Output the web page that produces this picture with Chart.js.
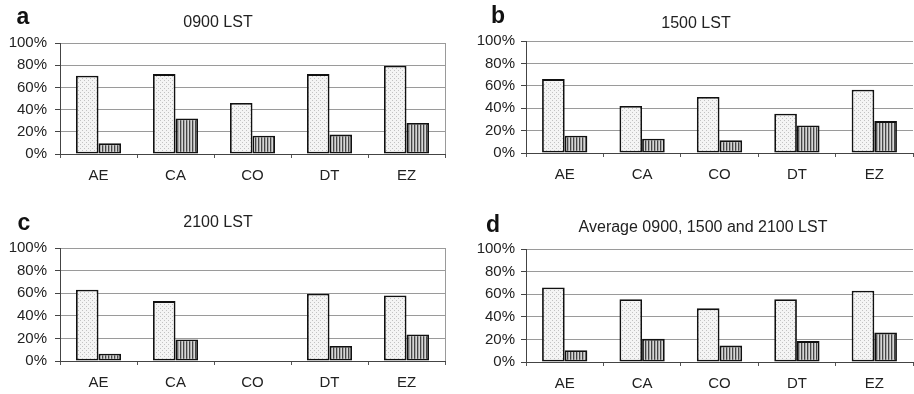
<!DOCTYPE html>
<html>
<head>
<meta charset="utf-8">
<script src="https://cdn.jsdelivr.net/npm/chart.js@4/dist/chart.umd.min.js"></script>
<style>
  html, body { margin: 0; padding: 0; background: #fff; }
  #wrap { position: relative; width: 914px; height: 394px; overflow: hidden; background: #fff; }
  canvas { position: absolute; left: 0; top: 0; }
  .t { position: absolute; font-family: "Liberation Sans", Arial, sans-serif; color: #222; white-space: nowrap; transform: translate(-50%, -50%); }
  .title { font-size: 16px; }
  .letter { font-size: 23px; font-weight: bold; color: #111; }
</style>
</head>
<body>
<div id="wrap"></div>
<script>
// ---- data ----
const categories = ['AE', 'CA', 'CO', 'DT', 'EZ'];
const yTickLabels = ['0%', '20%', '40%', '60%', '80%', '100%'];

const titles = ['0900 LST', '1500 LST', '2100 LST', 'Average 0900, 1500 and 2100 LST'];
const letters = ['a', 'b', 'c', 'd'];

const dottedA  = [70.5, 72, 46, 72, 79.5];
const stripedA = [9.6, 32, 16.5, 17.5, 28];

const dottedB  = [66, 42, 50, 35, 56.5];
const stripedB = [15.5, 12.8, 11.3, 24.5, 28.5];

const dottedC  = [63, 53, null, 59.5, 58];
const stripedC = [6.5, 19, null, 13.3, 23.5];

const dottedD  = [66, 55.5, 47.5, 55.5, 63];
const stripedD = [10.5, 20.5, 14.5, 18.5, 26];

// ---- layout (positions only) ----
const W = 914, H = 394;
const panels = [
  { dotted: dottedA, striped: stripedA, L: 60,  R: 445, T: 43,  B: 154, pad: 8, border: true,
    title: [218, 22], letter: [23, 16] },
  { dotted: dottedB, striped: stripedB, L: 526, R: 913, T: 41,  B: 153, pad: 6, border: false,
    title: [696, 23], letter: [498, 15] },
  { dotted: dottedC, striped: stripedC, L: 60,  R: 445, T: 248, B: 361, pad: 8, border: true,
    title: [218, 222], letter: [24, 222] },
  { dotted: dottedD, striped: stripedD, L: 526, R: 913, T: 249, B: 362, pad: 6, border: false,
    title: [703, 227], letter: [493, 224] },
];

function makeDots(ctx) {
  const c = document.createElement('canvas'); c.width = 4; c.height = 4;
  const g = c.getContext('2d');
  g.fillStyle = '#f4f4f4'; g.fillRect(0, 0, 4, 4);
  g.fillStyle = '#c2c2c2';
  g.fillRect(0, 0, 1, 1); g.fillRect(2, 2, 1, 1);
  return ctx.createPattern(c, 'repeat');
}
function makeStripes(ctx) {
  const c = document.createElement('canvas'); c.width = 3; c.height = 3;
  const g = c.getContext('2d');
  g.fillStyle = '#d6d6d6'; g.fillRect(0, 0, 3, 3);
  g.fillStyle = '#454545'; g.fillRect(0, 0, 1, 3);
  g.fillStyle = '#a8a8a8'; g.fillRect(1, 0, 1, 3);
  return ctx.createPattern(c, 'repeat');
}

const rightBorder = {
  id: 'rightBorder',
  afterDraw(chart, args, opts) {
    if (!opts.show) return;
    const a = chart.chartArea, ctx = chart.ctx;
    ctx.save();
    ctx.strokeStyle = '#9a9a9a'; ctx.lineWidth = 1;
    ctx.beginPath();
    ctx.moveTo(Math.round(a.right) + 0.5, a.top);
    ctx.lineTo(Math.round(a.right) + 0.5, a.bottom);
    ctx.stroke();
    ctx.restore();
  }
};

const wrap = document.getElementById('wrap');
const font = { family: '"Liberation Sans", Arial, sans-serif', size: 15 };
const YW = 60, XH = 40;

panels.forEach((p, i) => {
  const cv = document.createElement('canvas');
  cv.width = W; cv.height = H;
  cv.style.width = W + 'px'; cv.style.height = H + 'px';
  wrap.appendChild(cv);
  const ctx = cv.getContext('2d');

  new Chart(ctx, {
    type: 'bar',
    data: {
      labels: categories,
      datasets: [
        { data: p.dotted, backgroundColor: makeDots(ctx), borderColor: '#111', borderWidth: 1.8, borderSkipped: false },
        { data: p.striped, backgroundColor: makeStripes(ctx), borderColor: '#111', borderWidth: 1.8, borderSkipped: false },
      ]
    },
    options: {
      responsive: false,
      animation: false,
      events: [],
      layout: { padding: { left: p.L - YW, right: W - p.R, top: p.T, bottom: H - p.B - XH } },
      plugins: { legend: { display: false }, tooltip: { enabled: false }, title: { display: false },
                 rightBorder: { show: p.border } },
      datasets: { bar: { categoryPercentage: 0.585, barPercentage: 1 } },
      scales: {
        x: {
          afterFit(s) { s.height = XH; },
          grid: { drawOnChartArea: false, drawTicks: true, tickLength: 4, tickColor: '#555', offset: true },
          border: { color: '#444', width: 1 },
          ticks: { font, color: '#222', padding: 9, maxRotation: 0, autoSkip: false }
        },
        y: {
          min: 0, max: 100,
          afterFit(s) { s.width = YW; },
          grid: { color: '#9a9a9a', lineWidth: 1, tickLength: 5, tickColor: '#444' },
          border: { color: '#444', width: 1 },
          ticks: { stepSize: 20, font, color: '#222', padding: p.pad,
                   callback: (v) => yTickLabels[Math.round(v / 20)] }
        }
      }
    },
    plugins: [rightBorder]
  });

  const t = document.createElement('div');
  t.className = 't title'; t.textContent = titles[i];
  t.style.left = p.title[0] + 'px'; t.style.top = p.title[1] + 'px';
  wrap.appendChild(t);
  const l = document.createElement('div');
  l.className = 't letter'; l.textContent = letters[i];
  l.style.left = p.letter[0] + 'px'; l.style.top = p.letter[1] + 'px';
  wrap.appendChild(l);
});
</script>
</body>
</html>
